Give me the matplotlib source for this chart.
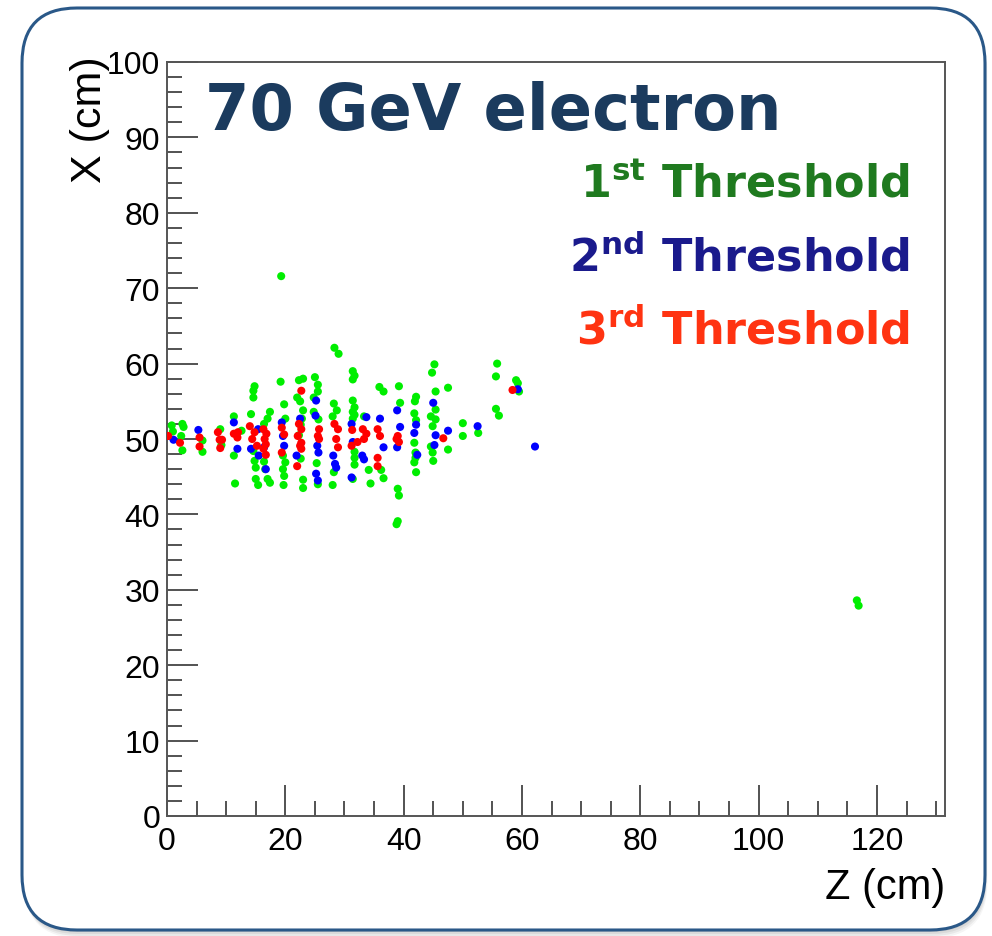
import matplotlib
matplotlib.use("Agg")
import matplotlib.pyplot as plt
from matplotlib.patches import FancyBboxPatch
from matplotlib.ticker import MultipleLocator

# Hits per threshold: Z (cm), X (cm)
green_z = [1.0, 2.6, 2.8, 2.4, 2.6, 0.8, 6.0, 6.0, 9.0, 9.2,
           11.3, 12.6, 11.3, 11.5,
           14.8, 14.6, 14.6, 14.2, 14.6, 14.8, 15.0, 15.0, 15.4,
           17.4, 17.0, 16.4, 16.4, 17.0, 17.4, 16.6,
           19.2, 19.8, 20.0, 19.6, 20.0, 19.6, 19.8, 19.7,
           22.3, 23.0, 22.0, 22.5, 23.0, 22.8, 22.6, 22.3, 22.6, 23.0, 23.0,
           25.0, 25.5, 25.5, 24.8, 24.8, 25.6, 25.3, 25.5,
           28.3, 29.0, 28.2, 28.7, 28.0, 28.2, 28.0,
           31.4, 31.7, 31.4, 31.4, 31.7, 31.4, 31.7, 31.4, 31.7, 31.7, 31.7, 31.4,
           33.3, 34.1, 34.4,
           35.9, 36.6, 36.2, 36.6,
           39.2, 39.4, 39.0, 39.2, 39.0, 38.8,
           42.1, 41.9, 41.8, 42.1, 41.8, 41.8, 42.1, 42.0, 42.0,
           45.2, 44.8, 45.4, 45.4, 44.6, 45.4, 44.9, 44.6, 44.9, 45.0,
           47.5, 47.5, 50.0, 50.0, 52.6,
           55.8, 55.6, 55.6, 56.1, 59.0, 59.3, 59.5,
           19.3, 116.6, 116.9]
green_x = [51.0, 52.0, 51.6, 50.4, 48.5, 51.8, 49.8, 48.3, 51.3, 49.2,
           53.0, 51.1, 47.8, 44.1,
           57.0, 56.4, 55.5, 53.3, 48.4, 47.1, 46.2, 44.7, 43.9,
           53.6, 52.7, 52.0, 47.0, 44.7, 44.2, 46.0,
           57.6, 54.6, 52.7, 47.8, 46.9, 46.0, 45.1, 43.9,
           57.8, 58.0, 55.5, 55.0, 53.8, 52.7, 51.9, 50.5, 47.4, 44.6, 43.5,
           58.2, 57.2, 56.3, 55.5, 53.6, 52.6, 46.8, 44.0,
           62.1, 61.3, 54.7, 53.8, 53.0, 45.6, 43.9,
           59.0, 58.4, 57.9, 55.1, 54.2, 53.6, 53.2, 52.7, 48.3, 47.5, 46.6, 44.7,
           53.0, 45.9, 44.1,
           56.9, 56.3, 45.9, 44.8,
           57.0, 54.8, 43.4, 42.5, 39.1, 38.7,
           55.6, 55.0, 53.4, 52.5, 49.5, 46.9, 45.6, 48.2, 47.5,
           59.9, 58.8, 56.3, 53.9, 53.0, 52.6, 51.7, 49.0, 48.2, 47.1,
           56.8, 48.6, 52.1, 50.4, 50.8,
           60.0, 58.3, 54.0, 53.1, 57.8, 57.4, 56.3,
           71.6, 28.6, 27.9]

blue_z = [1.1, 5.3, 11.3, 11.9, 15.4, 14.2, 15.5, 16.7, 16.4,
          19.4, 19.6, 19.8, 22.5, 21.9,
          25.2, 25.1, 25.4, 25.6, 25.2, 25.5,
          28.1, 28.4, 28.6,
          31.2, 31.4, 31.2,
          33.7, 33.0, 33.3,
          36.0, 36.6, 38.9, 38.9, 39.4,
          42.1, 41.8, 42.3, 45.0, 45.4, 45.2,
          47.5, 52.5, 59.3, 62.2]
blue_x = [49.9, 51.2, 52.2, 48.7, 51.3, 48.7, 47.8, 46.0, 48.9,
          52.2, 50.4, 49.1, 52.7, 47.8,
          55.1, 53.1, 49.1, 48.2, 45.4, 44.5,
          47.8, 46.7, 46.2,
          52.0, 49.6, 44.9,
          52.9, 47.8, 47.3,
          52.7, 48.9, 53.8, 48.9, 51.6,
          51.9, 50.8, 47.9, 54.8, 50.5, 49.2,
          51.1, 51.7, 56.6, 49.0]

red_z = [0.2, 2.2, 5.5, 5.5, 8.6, 8.9, 9.3, 9.0,
         11.3, 11.9, 12.0,
         14.0, 14.8, 14.4, 15.2,
         16.3, 16.8, 16.5, 16.7, 16.3, 16.7,
         19.4, 19.8, 19.4,
         22.7, 22.3, 22.7, 22.1, 22.7, 22.5, 22.7, 22.0,
         25.7, 25.5, 25.7,
         28.3, 28.9, 28.6, 28.9,
         31.3, 31.2, 32.2,
         33.1, 33.7, 33.3,
         35.6, 36.0, 35.6, 35.6,
         39.0, 38.8, 39.2, 46.7, 58.4]
red_x = [50.4, 49.5, 50.2, 49.0, 50.9, 49.9, 49.9, 48.8,
         50.7, 50.2, 50.9,
         51.7, 50.9, 50.0, 49.1,
         51.3, 50.7, 50.0, 49.3, 48.7, 47.9,
         51.5, 50.6, 48.2,
         56.4, 52.0, 51.3, 50.4, 49.5, 49.1, 48.7, 46.4,
         51.3, 50.4, 50.0,
         52.0, 51.3, 50.0, 48.9,
         51.2, 49.1, 49.6,
         51.3, 50.7, 50.0,
         51.3, 50.4, 47.5, 46.4,
         50.4, 50.0, 49.6, 50.1, 56.5]

W, H = 992, 937
fig = plt.figure(figsize=(W / 100, H / 100), dpi=100)

# background frame with rounded corners and soft shadow
bg = fig.add_axes([0, 0, 1, 1])
bg.set_xlim(0, W)
bg.set_ylim(0, H)
bg.axis("off")
for i, a in enumerate([0.04, 0.05, 0.06, 0.07]):
    off = 8 - 2 * i
    bg.add_patch(FancyBboxPatch((22 + off * 0.3, 6 - off), 963, 922,
                                boxstyle="round,pad=0,rounding_size=55",
                                fc="black", ec="none", alpha=a))
bg.add_patch(FancyBboxPatch((22, 6), 963, 922,
                            boxstyle="round,pad=0,rounding_size=55",
                            fc="white", ec="#2a5888", lw=2.2))

ax = fig.add_axes([167 / W, 1 - 817 / H, 778 / W, 754 / H])
ax.set_facecolor("white")
ax.scatter(green_z, green_x, s=34, color="#00ee00", edgecolors="none", zorder=3)
ax.scatter(blue_z, blue_x, s=34, color="#0000ff", edgecolors="none", zorder=4)
ax.scatter(red_z, red_x, s=34, color="#ff0000", edgecolors="none", zorder=5)

ax.set_xlim(0, 131.5)
ax.set_ylim(0, 100)
ax.xaxis.set_major_locator(MultipleLocator(20))
ax.xaxis.set_minor_locator(MultipleLocator(5))
ax.yaxis.set_major_locator(MultipleLocator(10))
ax.yaxis.set_minor_locator(MultipleLocator(2))
ax.tick_params(which="both", direction="in", colors="#444444", width=1.3,
               labelcolor="black", labelsize=23)
ax.tick_params(which="major", length=22)
ax.tick_params(which="minor", length=11)
ax.tick_params(axis="x", pad=7)
ax.tick_params(axis="y", pad=5)
for lab in ax.get_xticklabels() + ax.get_yticklabels():
    lab.set_family("Liberation Sans")
for sp in ax.spines.values():
    sp.set_color("#555555")
    sp.set_linewidth(1.4)

fig.text(945 / W, 1 - 908 / H, "Z (cm)", ha="right", va="bottom",
         fontsize=30, family="Liberation Sans")
fig.text(90 / W, 1 - 56 / H, "X (cm)", ha="center", va="top", rotation=90,
         fontsize=31, family="Liberation Sans")

ax.text(0.049, 0.911, "70 GeV electron", transform=ax.transAxes,
        fontsize=46, fontweight="bold", color="#1b3b5e", ha="left", va="baseline")
ax.text(0.955, 0.821, r"1$^{\bf st}$ Threshold", transform=ax.transAxes,
        fontsize=32, fontweight="bold", color="#1f7a1f", ha="right", va="baseline")
ax.text(0.955, 0.723, r"2$^{\bf nd}$ Threshold", transform=ax.transAxes,
        fontsize=32, fontweight="bold", color="#1a1a8c", ha="right", va="baseline")
ax.text(0.955, 0.626, r"3$^{\bf rd}$ Threshold", transform=ax.transAxes,
        fontsize=32, fontweight="bold", color="#ff3311", ha="right", va="baseline")

fig.savefig("out.png", dpi=100)
